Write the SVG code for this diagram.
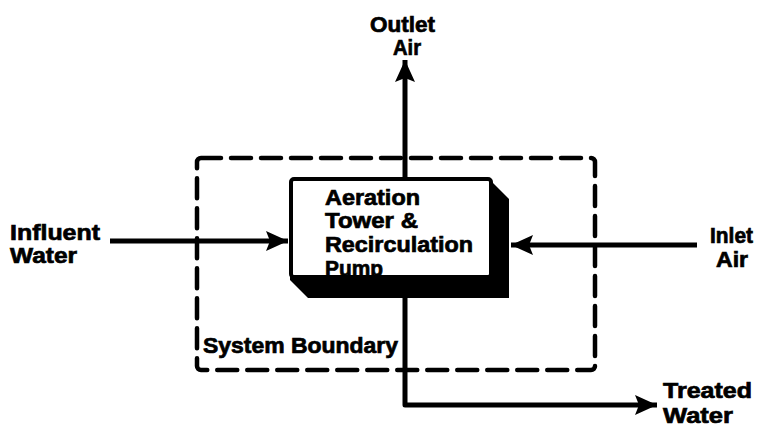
<svg xmlns="http://www.w3.org/2000/svg" width="763" height="432" viewBox="0 0 763 432">
<style>
.t{font-family:"Liberation Sans",Arial,sans-serif;font-weight:bold;font-size:22px;fill:#000;stroke:#000;stroke-width:0.7}
.ln{stroke:#000;stroke-width:5;fill:none;stroke-linejoin:round}
.dash{stroke:#000;stroke-width:4.5;fill:none;stroke-dasharray:20 10;stroke-linecap:round}
</style>
<defs>
<marker id="ah" viewBox="0 0 22 22" refX="22" refY="11" markerWidth="22" markerHeight="22" markerUnits="userSpaceOnUse" orient="auto">
<path d="M0,1 L22,11 L0,21 L4,11 Z" fill="#000"/>
</marker>
</defs>
<rect width="763" height="432" fill="#fff"/>
<g id="boundary">
<rect x="197" y="158" width="398" height="212" rx="4" class="dash"/>
<text class="t" x="203" y="353" textLength="195" lengthAdjust="spacingAndGlyphs">System Boundary</text>
</g>
<g id="connectors">
<line class="ln" x1="405" y1="178" x2="405" y2="60" marker-end="url(#ah)"/>
<line class="ln" x1="110" y1="241" x2="288" y2="241" marker-end="url(#ah)"/>
<line class="ln" x1="697" y1="245" x2="511" y2="245" marker-end="url(#ah)"/>
<path class="ln" d="M405,297 L405,405 L657,405" marker-end="url(#ah)"/>
</g>
<g id="tower">
<polygon points="292,180 490,180 509,199 509,298 308,298 290,280" fill="#000"/>
<rect x="291" y="179" width="200" height="98" rx="3" fill="#fff" stroke="#000" stroke-width="4"/>
<text class="t" x="325" y="205" textLength="95" lengthAdjust="spacingAndGlyphs">Aeration</text>
<text class="t" x="325" y="228" textLength="93" lengthAdjust="spacingAndGlyphs">Tower &amp;</text>
<text class="t" x="325" y="252" textLength="148" lengthAdjust="spacingAndGlyphs">Recirculation</text>
<text class="t" x="325" y="276" textLength="58" lengthAdjust="spacingAndGlyphs">Pump</text>
<rect x="293" y="279" width="196" height="3" fill="#000"/>
</g>
<g id="influent">
<text class="t" x="10" y="240" textLength="90" lengthAdjust="spacingAndGlyphs">Influent</text>
<text class="t" x="10" y="263" textLength="67" lengthAdjust="spacingAndGlyphs">Water</text>
</g>
<g id="inlet">
<text class="t" x="710" y="243" textLength="43" lengthAdjust="spacingAndGlyphs">Inlet</text>
<text class="t" x="716" y="267" textLength="32" lengthAdjust="spacingAndGlyphs">Air</text>
</g>
<g id="outlet">
<text class="t" x="370" y="32" textLength="65" lengthAdjust="spacingAndGlyphs">Outlet</text>
<text class="t" x="393" y="55" textLength="28" lengthAdjust="spacingAndGlyphs">Air</text>
</g>
<g id="treated">
<text class="t" x="663" y="398" textLength="89" lengthAdjust="spacingAndGlyphs">Treated</text>
<text class="t" x="663" y="423" textLength="70" lengthAdjust="spacingAndGlyphs">Water</text>
</g>
</svg>
